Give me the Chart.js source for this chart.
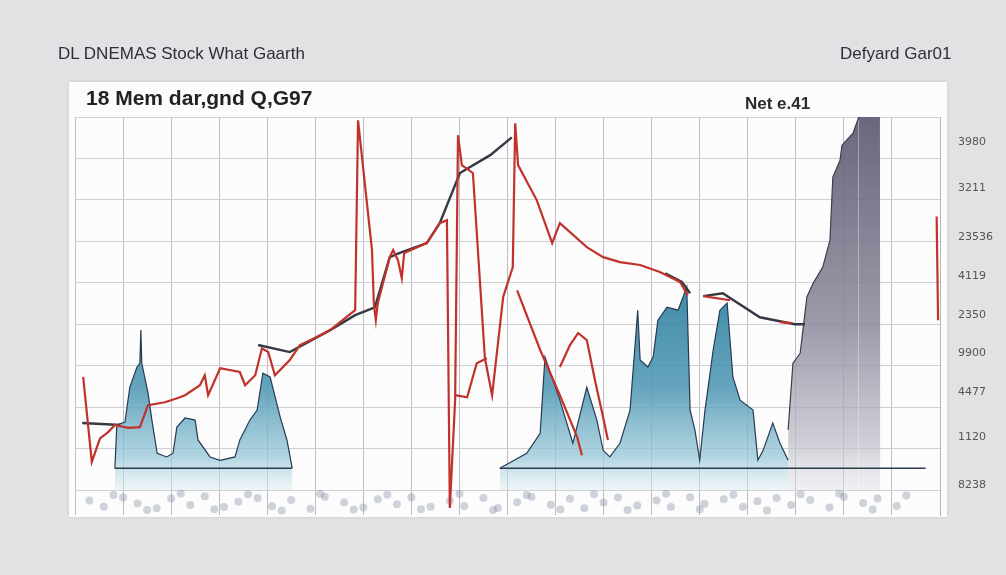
<!DOCTYPE html>
<html>
<head>
<meta charset="utf-8">
<script src="https://cdn.jsdelivr.net/npm/chart.js@4"></script>
<style>
  body { margin: 0; background: #e2e2e4; width: 1006px; height: 575px; overflow: hidden; position: relative; font-family: "Liberation Sans", Arial, sans-serif; }
  #panel { position: absolute; left: 69px; top: 82px; width: 878px; height: 435px; background: #fcfcfc; box-shadow: 0 0 3px rgba(0,0,0,0.12); }
  canvas { position: absolute; left: 0; top: 0; }
  .txt { position: absolute; white-space: nowrap; }
  #t1 { left: 58px; top: 44px; font-size: 17px; color: #2c2f3a; }
  #t2 { left: 840px; top: 44px; font-size: 17px; color: #2c2f3a; }
  #h1 { left: 86px; top: 86px; font-size: 21px; font-weight: bold; color: #222; }
  #h2 { left: 745px; top: 94px; font-size: 17px; font-weight: bold; color: #2a2a2a; }
</style>
</head>
<body>
<div id="panel"></div>
<canvas id="myChart" width="1006" height="575"></canvas>
<div class="txt" id="t1">DL DNEMAS Stock What Gaarth</div>
<div class="txt" id="t2">Defyard Gar01</div>
<div class="txt" id="h1">18 Mem dar,gnd Q,G97</div>
<div class="txt" id="h2">Net e.41</div>
<script>
// right axis labels (as printed) and where they sit
const tickLabels = ['3980', '3211', '23536', '4119', '2350', '9900', '4477', '1120', '8238'];
const tickValues = [83.9, 72.8, 61.0, 51.6, 42.2, 33.0, 23.6, 12.8, 1.2];
const gridY = [0, 10, 20, 30, 40, 50, 60, 70, 80, 90];

// red price line
const redX = [1.7,3.5,5.2,6.9,8.3,11.0,13.5,15.2,18.7,21.4,22.9,26.0,27.0,27.7,30.2,34.3,35.4,37.5,38.9,40.2,41.6,44.7,46.8,49.9,53.1,56.2,58.3,58.9,61.8,62.2,62.6,63.0,65.5,66.2,67.2,68.0,68.5,73.2,75.9,77.4,78.0,79.1,79.7,80.5,82.8,85.3,86.8,89.1,91.1,91.6,92.2,96.1,99.3,100.9,106.5,109.9,113.4,117.6,121.7,125.9,127.5];
const redY = [27.3,6.8,12.5,14.0,15.7,15.0,15.2,20.5,21.2,22.2,22.9,25.3,27.7,22.9,29.4,28.5,25.3,27.7,34.2,33.3,27.7,31.4,35.0,36.7,38.6,41.5,43.4,89.2,57.9,44.6,41.0,45.1,56.2,57.9,55.5,51.1,57.2,59.6,64.4,65.1,-4.3,21.7,85.6,78.4,76.5,31.8,22.9,46.6,53.8,88.5,78.4,69.9,59.6,64.4,58.6,56.2,55.0,54.3,52.6,50.2,47.0];

// red side strokes (null = break)
const red2X = [79.1,81.6,83.6,85.7,null,92.0,96.8,100.9,104.5,105.5,null,100.9,103.0,104.7,106.5,108.2,109.9,110.9,null,130.7,136.3,null,146.7,149.2,null,179.3,179.6];
const red2Y = [22.9,22.4,30.6,31.8,null,48.2,33.8,22.9,12.8,8.4,null,29.7,35.0,37.9,36.2,26.5,17.6,12.1,null,46.8,45.8,null,40.5,40.3,null,66.0,41.0];

// dark trend line
const darkX = [1.5,9.4,null,38.1,44.7,53.1,58.3,62.4,65.5,67.6,73.2,75.9,80.1,86.4,90.9,null,122.8,126.3,128.0,null,130.7,134.8,142.5,149.8,151.9];
const darkY = [16.2,15.7,null,35.0,33.3,38.6,42.2,44.1,56.2,57.2,59.6,64.4,76.5,80.8,85.1,null,52.3,50.2,47.5,null,46.8,47.5,41.7,40.0,40.0];

// blue volume areas
const blueX = [8.3,8.7,10.4,11.4,12.9,13.5,13.7,13.9,15.2,16.0,17.1,19.1,20.4,21.2,22.9,25.0,25.6,28.1,30.2,33.3,34.3,36.4,37.9,39.1,40.6,42.7,44.1,45.2,null,
  88.4,94.0,96.8,97.8,100.9,103.6,106.5,108.6,109.9,111.3,113.4,115.5,117.1,117.6,119.2,120.3,121.3,123.2,125.5,127.3,128.0,129.0,130.0,131.1,132.8,134.2,135.7,136.9,138.4,141.1,142.1,143.2,145.2,146.7,148.4];
const blueY = [5.3,15.7,16.4,24.8,29.7,30.6,38.6,30.6,23.4,16.9,8.9,8.0,8.9,15.2,17.4,16.9,12.1,8.0,7.2,8.0,12.1,16.9,19.3,28.2,27.3,17.6,12.1,5.3,null,
  5.3,8.9,13.7,32.1,21.7,11.3,24.8,16.9,9.6,8.0,11.3,19.3,43.4,31.4,29.7,32.1,41.0,44.1,43.4,49.0,19.3,14.5,7.2,19.3,33.8,43.4,45.1,27.3,21.7,19.3,7.2,9.6,16.2,11.3,7.2];

// gray block at the right
const grayX = [148.4,149.4,150.9,152.3,153.6,155.6,157.1,157.7,159.2,159.6,161.9,163.1,167.5,167.6];
const grayY = [14.5,30.6,33.0,46.6,49.9,53.8,60.3,75.5,79.6,83.2,86.1,90,90,-1];

// baseline under the areas
const baseX = [8.3,45.2,null,88.4,177];
const baseY = [5.3,5.3,null,5.3,5.3];

// specks along the bottom strip
const speckX = [3,6,8,10,13,15,17,20,22,24,27,29,31,34,36,38,41,43,45,49,51,52,56,58,60,63,65,67,70,72,74,78,80,81,85,87,88,92,94,95,99,101,103,106,108,110,113,115,117,121,123,124,128,130,131,135,137,139,142,144,146,149,151,153,157,159,160,164,166,167,171,173];
const speckY = [-2.5,-4.0,-1.2,-1.8,-3.2,-4.8,-4.4,-2.0,-0.8,-3.6,-1.5,-4.6,-4.1,-2.8,-1.0,-1.9,-3.9,-4.9,-2.4,-4.5,-0.9,-1.6,-3.0,-4.7,-4.2,-2.2,-1.1,-3.4,-1.7,-4.6,-4.0,-2.6,-0.9,-3.8,-1.9,-4.8,-4.3,-2.9,-1.2,-1.6,-3.5,-4.7,-2.1,-4.4,-1.0,-3.0,-1.8,-4.8,-3.7,-2.5,-0.9,-4.1,-1.7,-4.6,-3.3,-2.2,-1.1,-4.0,-2.7,-4.9,-1.9,-3.6,-1.0,-2.4,-4.2,-0.8,-1.6,-3.1,-4.7,-2.0,-3.8,-1.3];

const pts = (xs, ys) => xs.map((x, i) => (x === null ? {x: null, y: null} : {x: x, y: ys[i]}));
const fixPts = arr => arr.map((p, i) => p.x === null ? {x: arr[i-1].x + 0.01, y: null} : p);

const blueFill = c => {
  const {ctx, chartArea, scales} = c.chart;
  if (!chartArea) return 'rgba(70,140,170,0.8)';
  const y = scales.y;
  const g = ctx.createLinearGradient(0, y.getPixelForValue(50), 0, y.getPixelForValue(-1));
  g.addColorStop(0, 'rgba(45,128,158,0.92)');
  g.addColorStop(0.5, 'rgba(80,152,180,0.88)');
  g.addColorStop(0.82, 'rgba(150,198,215,0.75)');
  g.addColorStop(1, 'rgba(225,238,243,0.35)');
  return g;
};
const grayFill = c => {
  const {ctx, chartArea, scales} = c.chart;
  if (!chartArea) return 'rgba(110,110,130,0.8)';
  const y = scales.y;
  const g = ctx.createLinearGradient(0, y.getPixelForValue(90), 0, y.getPixelForValue(-2));
  g.addColorStop(0, 'rgba(92,90,112,0.92)');
  g.addColorStop(0.55, 'rgba(138,138,156,0.86)');
  g.addColorStop(0.85, 'rgba(188,188,200,0.72)');
  g.addColorStop(1, 'rgba(232,232,238,0.4)');
  return g;
};

let myChart;
const setup = () => {
  const ctxt = document.getElementById('myChart').getContext('2d');
  myChart = new Chart(ctxt, {
    type: 'line',
    data: {
      datasets: [
        { data: fixPts(pts(redX, redY)), borderColor: '#c1322b', borderWidth: 2.2, pointRadius: 0, fill: false, tension: 0 },
        { data: fixPts(pts(red2X, red2Y)), borderColor: '#c1322b', borderWidth: 2.2, pointRadius: 0, fill: false, spanGaps: false },
        { data: fixPts(pts(darkX, darkY)), borderColor: '#363844', borderWidth: 2.4, pointRadius: 0, fill: false, spanGaps: false },
        { data: fixPts(pts(baseX, baseY)), borderColor: '#2f3a48', borderWidth: 1.5, pointRadius: 0, fill: false, spanGaps: false },
        { data: fixPts(pts(blueX, blueY)), borderColor: '#263a52', borderWidth: 1.2, pointRadius: 0, fill: 'origin', backgroundColor: blueFill, spanGaps: false },
        { data: pts(grayX, grayY), borderColor: '#3d3d4c', borderWidth: 1.2, pointRadius: 0, fill: 'origin', backgroundColor: grayFill,
          segment: { borderColor: s => (s.p0DataIndex >= grayX.length - 3 ? 'rgba(0,0,0,0)' : undefined) } },
        { data: pts(speckX, speckY), showLine: false, pointRadius: 4, pointBorderWidth: 0, pointBackgroundColor: 'rgba(120,132,155,0.35)' }
      ]
    },
    options: {
      responsive: false,
      animation: false,
      layout: { padding: { left: 75, top: 117, bottom: 60, right: 0 } },
      plugins: { legend: { display: false }, tooltip: { enabled: false } },
      scales: {
        x: {
          type: 'linear', min: 0, max: 180,
          ticks: { display: false, stepSize: 10 },
          grid: { color: '#bdbdc2', drawTicks: false },
          border: { display: false },
          afterFit: s => { s.height = 0; }
        },
        y: {
          min: -6, max: 90,
          afterBuildTicks: s => { s.ticks = gridY.map(v => ({value: v})); },
          ticks: { display: false },
          grid: { color: '#cfcfd3', drawTicks: false },
          border: { display: false },
          afterFit: s => { s.width = 0; }
        },
        y2: {
          position: 'right', min: -6, max: 90,
          afterBuildTicks: s => { s.ticks = tickValues.map(v => ({value: v})); },
          ticks: { callback: (v, i) => tickLabels[i], color: '#555', font: { family: 'DejaVu Sans', size: 11 }, padding: 10 },
          grid: { display: false },
          border: { color: '#b5b5ba' },
          afterFit: s => { s.width = 66; }
        }
      }
    }
  });
};
window.addEventListener('DOMContentLoaded', setup);
</script>
</body>
</html>
